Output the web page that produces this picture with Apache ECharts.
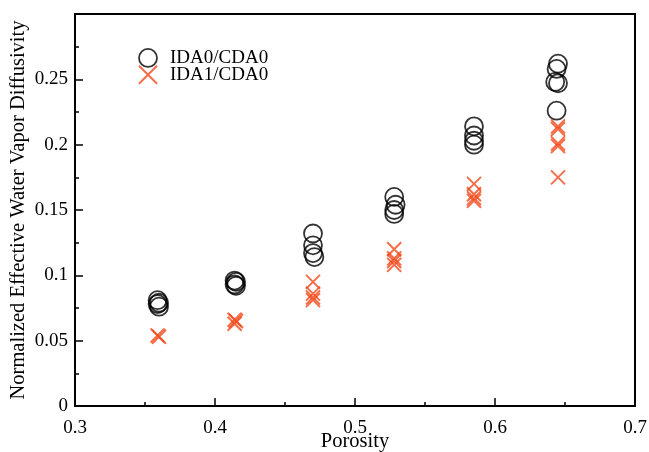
<!DOCTYPE html>
<html>
<head>
<meta charset="utf-8">
<script src="https://cdn.jsdelivr.net/npm/echarts@6/dist/echarts.min.js"></script>
<style>html,body{margin:0;padding:0;background:#fff}#c{width:649px;height:452px}</style>
</head>
<body>
<div id="c"></div>
<script>
var seriesNames = ['IDA0/CDA0', 'IDA1/CDA0'];
var ida0X = [0.359,0.360,0.359,0.360, 0.414,0.415,0.414,0.415, 0.470,0.470,0.470,0.471, 0.528,0.529,0.528,0.528, 0.585,0.585,0.585,0.585, 0.645,0.644,0.643,0.645,0.644];
var ida0Y = [0.081,0.079,0.078,0.076, 0.096,0.095,0.093,0.092, 0.132,0.123,0.117,0.114, 0.160,0.154,0.150,0.147, 0.214,0.207,0.203,0.200, 0.262,0.258,0.248,0.247,0.226];
var ida1X = [0.359,0.360, 0.414,0.415,0.414, 0.470,0.470,0.470,0.470, 0.528,0.528,0.528,0.528, 0.585,0.585,0.585,0.585, 0.645,0.645,0.645,0.645,0.645];
var ida1Y = [0.054,0.053, 0.066,0.065,0.063, 0.095,0.086,0.083,0.081, 0.120,0.113,0.111,0.108, 0.170,0.162,0.159,0.157, 0.214,0.212,0.201,0.199,0.175];
var xTicks = [0.3,0.4,0.5,0.6,0.7];
var yTicks = [0,0.05,0.1,0.15,0.2,0.25];

function pairs(xs, ys){ return xs.map(function(x,i){return [x, ys[i]];}); }
var font = '"Liberation Serif","DejaVu Serif",serif';
var crossPath = 'path://M0,0L10,10M10,0L0,10';
var orange = '#f24a1c';

var chart = echarts.init(document.getElementById('c'), null, {renderer:'canvas'});
chart.setOption({
  animation:false,
  backgroundColor:'#fff',
  grid:{left:75, right:14, top:14, bottom:46, containLabel:false, outerBoundsMode:'none',
        show:true, borderColor:'#000', borderWidth:2, backgroundColor:'transparent'},
  legend:{
    left:133, top:43, orient:'vertical', itemGap:-3, itemWidth:34, itemHeight:18,
    textStyle:{fontFamily:font, fontSize:19, color:'#000'},
    data:[
      {name:seriesNames[0], icon:'circle', itemStyle:{color:'transparent', borderColor:'#000', borderWidth:1.8}},
      {name:seriesNames[1], icon:crossPath, itemStyle:{color:'transparent', borderColor:orange, borderWidth:2}}
    ]
  },
  xAxis:{
    type:'value', min:0.3, max:0.7, interval:0.1,
    name:'Porosity', nameLocation:'middle', nameGap:25, nameMoveOverlap:false,
    nameTextStyle:{fontFamily:font, fontSize:20.5, color:'#000'},
    axisLine:{show:true, onZero:false, lineStyle:{color:'#000', width:2}},
    axisTick:{show:true, inside:true, length:8, lineStyle:{color:'#000', width:1.5}},
    minorTick:{show:true, splitNumber:2, length:4, lineStyle:{color:'#000', width:1.5}},
    axisLabel:{fontFamily:font, fontSize:19, color:'#000', margin:13,
      formatter:function(v){ var t = xTicks.find(function(k){return Math.abs(k-v)<1e-9;}); return t===undefined?'':String(t); }},
    splitLine:{show:false}
  },
  yAxis:{
    type:'value', min:0, max:0.3, interval:0.05,
    name:'Normalized Effective Water Vapor Diffusivity', nameLocation:'middle', nameGap:46, nameMoveOverlap:false,
    nameTextStyle:{fontFamily:font, fontSize:20.5, color:'#000'},
    axisLine:{show:true, lineStyle:{color:'#000', width:2}},
    axisTick:{show:true, inside:true, length:8, lineStyle:{color:'#000', width:1.5}},
    minorTick:{show:true, splitNumber:2, length:4, lineStyle:{color:'#000', width:1.5}},
    axisLabel:{fontFamily:font, fontSize:19, color:'#000', margin:7,
      formatter:function(v){ var t = yTicks.find(function(k){return Math.abs(k-v)<1e-9;}); return t===undefined?'':String(t); }},
    splitLine:{show:false}
  },
  series:[
    {name:seriesNames[0], type:'scatter', data:pairs(ida0X, ida0Y), symbol:'circle', symbolSize:18,
     itemStyle:{color:'transparent', borderColor:'#000', borderWidth:1.8}},
    {name:seriesNames[1], type:'scatter', data:pairs(ida1X, ida1Y), symbol:crossPath, symbolSize:14,
     itemStyle:{color:'transparent', borderColor:orange, borderWidth:2}}
  ]
});
</script>
</body>
</html>
